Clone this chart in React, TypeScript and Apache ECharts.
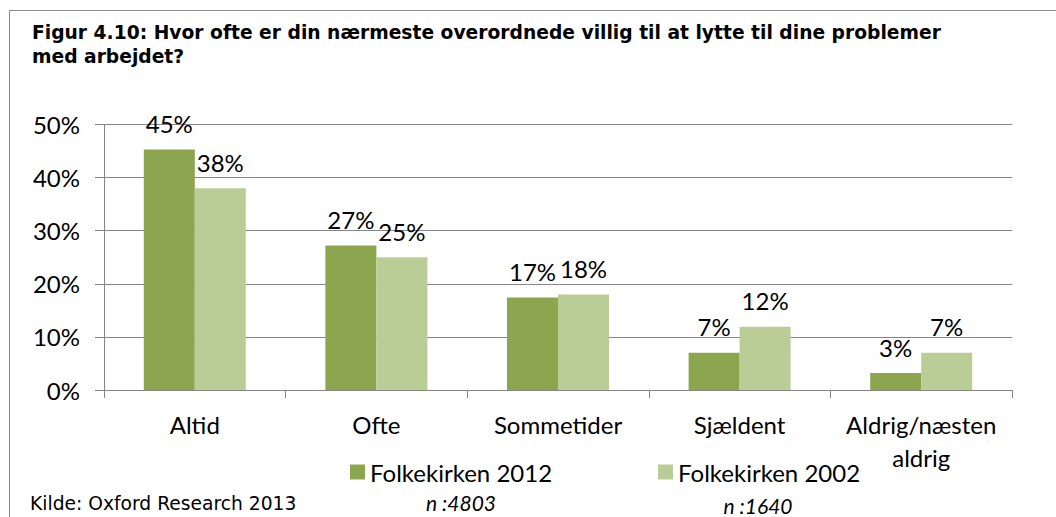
import React, { useEffect, useRef } from "react";
import * as echarts from "echarts";

const categories = ["Altid", "Ofte", "Sommetider", "Sjældent", "Aldrig/næsten\naldrig"];
const series2012 = [45.3, 27.2, 17.4, 7.0, 3.2];
const series2002 = [38.0, 25.0, 18.0, 11.9, 7.0];
const seriesNames = ["Folkekirken 2012", "Folkekirken 2002"];
const sampleNotes = ["n :4803", "n :1640"];
const titleText = "Figur 4.10: Hvor ofte er din nærmeste overordnede villig til at lytte til dine problemer\nmed arbejdet?";
const sourceText = "Kilde: Oxford Research 2013";

const FONT = "Lato";
const DARK = "#8ba64f";
const LIGHT = "#bacd97";
const GRID = "#868686";

export default function App() {
  const ref = useRef<HTMLDivElement>(null);
  useEffect(() => {
    if (!ref.current) return;
    const chart = echarts.init(ref.current, null, { renderer: "svg" });
    const labelCfg = {
      show: true,
      position: "top",
      distance: 14,
      fontFamily: FONT,
      fontSize: 24,
      color: "#000",
      formatter: (p: any) => Math.round(p.value) + "%",
    };
    const legendText = { fontFamily: FONT, fontSize: 24, color: "#000", lineHeight: 20 };
    chart.setOption({
      animation: false,
      backgroundColor: "#fff",
      title: {
        text: titleText,
        left: 27,
        top: 15,
        textStyle: {
          fontFamily: "DejaVu Sans",
          fontWeight: "bold",
          fontSize: 18.7,
          lineHeight: 24,
          color: "#000",
        },
      },
      grid: { left: 104, right: 44, top: 124.5, bottom: 127, containLabel: false },
      legend: [
        {
          data: [seriesNames[0]],
          left: 350,
          top: 460,
          padding: 0,
          icon: "rect",
          itemWidth: 15,
          itemHeight: 15,
          itemGap: 5,
          textStyle: legendText,
        },
        {
          data: [seriesNames[1]],
          left: 658,
          top: 460,
          padding: 0,
          icon: "rect",
          itemWidth: 15,
          itemHeight: 15,
          textStyle: legendText,
        },
      ],
      xAxis: {
        type: "category",
        data: categories,
        axisLine: { show: true, lineStyle: { color: GRID, width: 1 } },
        axisTick: { show: true, length: 8, lineStyle: { color: GRID } },
        axisLabel: {
          interval: 0,
          fontFamily: FONT,
          fontSize: 24,
          color: "#000",
          margin: 18,
          lineHeight: 33,
        },
      },
      yAxis: {
        type: "value",
        min: 0,
        max: 50,
        interval: 10,
        axisLine: { show: true, lineStyle: { color: GRID, width: 1 } },
        axisTick: { show: true, length: 9, lineStyle: { color: GRID } },
        splitLine: { show: true, lineStyle: { color: GRID, width: 1 } },
        axisLabel: {
          fontFamily: FONT,
          fontSize: 24,
          color: "#000",
          margin: 24,
          formatter: "{value}%",
        },
      },
      series: [
        {
          name: seriesNames[0],
          type: "bar",
          data: series2012,
          barWidth: 51,
          barGap: "0%",
          itemStyle: { color: DARK },
          label: labelCfg,
        },
        {
          name: seriesNames[1],
          type: "bar",
          data: series2002,
          barWidth: 51,
          barGap: "0%",
          itemStyle: { color: LIGHT },
          label: labelCfg,
        },
      ],
      graphic: [
        {
          type: "rect",
          silent: true,
          z: -1,
          shape: { x: 9.5, y: 10.5, width: 1200, height: 700 },
          style: { fill: "none", stroke: "#8c8c8c", lineWidth: 1 },
        },
        {
          type: "text",
          x: 30,
          y: 503,
          style: {
            text: sourceText,
            font: "18.7px 'DejaVu Sans'",
            fill: "#000",
            align: "left",
            verticalAlign: "middle",
          },
        },
        {
          type: "text",
          x: 461,
          y: 502,
          style: {
            text: sampleNotes[0],
            font: "italic 21px Lato",
            lineHeight: 16,
            fill: "#000",
            align: "center",
            verticalAlign: "middle",
          },
        },
        {
          type: "text",
          x: 758,
          y: 505,
          style: {
            text: sampleNotes[1],
            font: "italic 21px Lato",
            lineHeight: 16,
            fill: "#000",
            align: "center",
            verticalAlign: "middle",
          },
        },
      ],
    });
    return () => chart.dispose();
  }, []);
  return (
    <div
      ref={ref}
      style={{ position: "fixed", left: 0, top: 0, width: 1056, height: 517, background: "#fff" }}
    />
  );
}
